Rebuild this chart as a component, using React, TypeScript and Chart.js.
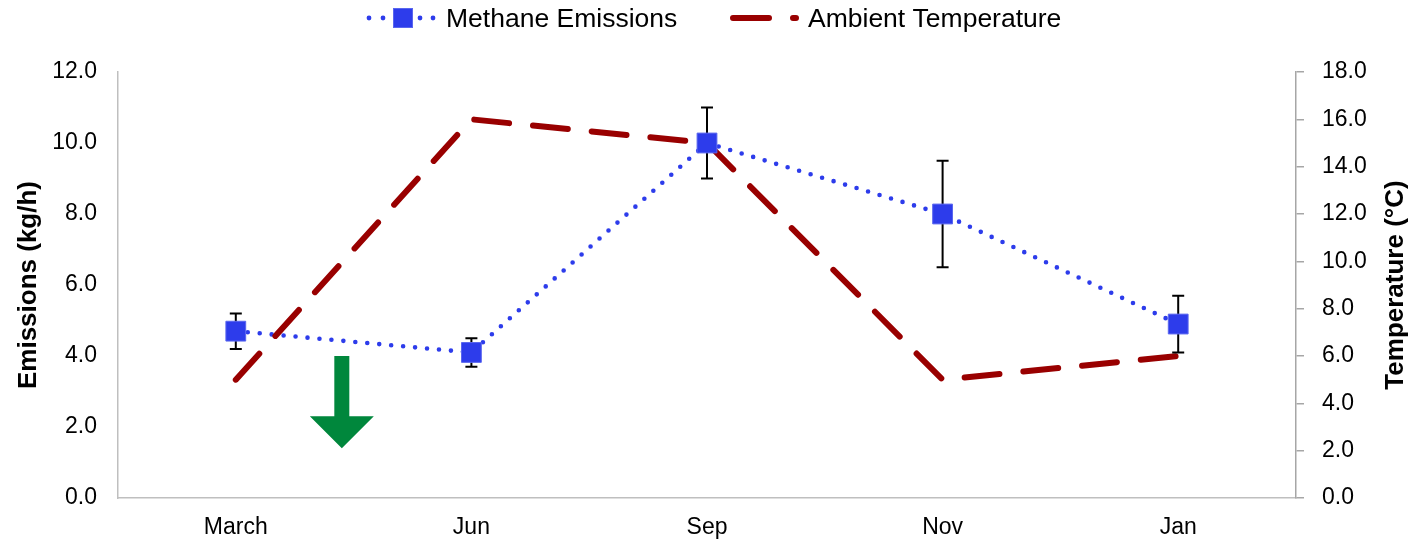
import React, { useEffect, useRef } from 'react';
import { Chart, registerables } from 'chart.js';

Chart.register(...registerables);

// ---- data ----
const categories = ['March', 'Jun', 'Sep', 'Nov', 'Jan'];
const methane = [4.7, 4.1, 10.0, 8.0, 4.9];
const methaneLow = [4.2, 3.7, 9.0, 6.5, 4.1];
const methaneHigh = [5.2, 4.5, 11.0, 9.5, 5.7];
const temperature = [5.0, 16.0, 15.0, 5.0, 6.0];
const leftAxisRange = [0, 12];
const rightAxisRange = [0, 18];
const tickStep = 2;
// arrow annotation (category index, from / to on the emissions axis)
const arrowIndex = 0.45;
const arrowFrom = 4.0;
const arrowTo = 1.4;

const seriesNames = ['Methane Emissions', 'Ambient Temperature'];
const axisTitles = ['Emissions (kg/h)', 'Temperature (°C)'];

const BLUE = '#2d3ceb';
const BLUE_EDGE = '#5966ef';
const RED = '#990000';
const GREEN = '#00873c';
const FONT = '"Liberation Sans", Arial, sans-serif';

const errorBarPlugin = {
  id: 'errorBars',
  beforeDatasetDraw(chart: any, args: any) {
    if (args.index !== 0) return;
    const { ctx } = chart;
    const xs = chart.scales.x;
    const ys = chart.scales.y;
    ctx.save();
    ctx.strokeStyle = '#000';
    ctx.lineWidth = 2;
    methane.forEach((_, i) => {
      const x = xs.getPixelForValue(i);
      const yl = ys.getPixelForValue(methaneLow[i]);
      const yh = ys.getPixelForValue(methaneHigh[i]);
      ctx.beginPath();
      ctx.moveTo(x, yl);
      ctx.lineTo(x, yh);
      ctx.moveTo(x - 6, yl);
      ctx.lineTo(x + 6, yl);
      ctx.moveTo(x - 6, yh);
      ctx.lineTo(x + 6, yh);
      ctx.stroke();
    });
    ctx.restore();
  },
};

const arrowPlugin = {
  id: 'arrow',
  afterDatasetsDraw(chart: any) {
    const { ctx } = chart;
    const x = chart.scales.x.getPixelForValue(arrowIndex);
    const top = chart.scales.y.getPixelForValue(arrowFrom);
    const tip = chart.scales.y.getPixelForValue(arrowTo);
    const headH = 32;
    const headTop = tip - headH;
    ctx.save();
    ctx.fillStyle = GREEN;
    ctx.beginPath();
    ctx.moveTo(x - 7.5, top);
    ctx.lineTo(x + 7.5, top);
    ctx.lineTo(x + 7.5, headTop);
    ctx.lineTo(x + 32, headTop);
    ctx.lineTo(x, tip);
    ctx.lineTo(x - 32, headTop);
    ctx.lineTo(x - 7.5, headTop);
    ctx.closePath();
    ctx.fill();
    ctx.restore();
  },
};

const legendAndTitlePlugin = {
  id: 'customLegend',
  afterDraw(chart: any) {
    const { ctx, chartArea } = chart;
    ctx.save();
    // Methane legend sample
    const ly = 18;
    ctx.fillStyle = BLUE;
    [369, 383, 420, 433].forEach((dx) => {
      ctx.beginPath();
      ctx.arc(dx, ly, 2.4, 0, Math.PI * 2);
      ctx.fill();
    });
    ctx.fillRect(393.5, ly - 9.5, 19, 19);
    ctx.strokeStyle = BLUE_EDGE;
    ctx.lineWidth = 1;
    ctx.strokeRect(393.5, ly - 9.5, 19, 19);
    // Temperature legend sample
    ctx.strokeStyle = RED;
    ctx.lineWidth = 6;
    ctx.lineCap = 'round';
    ctx.beginPath();
    ctx.moveTo(733, ly);
    ctx.lineTo(769, ly);
    ctx.moveTo(793, ly);
    ctx.lineTo(796, ly);
    ctx.stroke();
    // legend text
    ctx.fillStyle = '#000';
    ctx.font = `26.5px ${FONT}`;
    ctx.textAlign = 'left';
    ctx.textBaseline = 'alphabetic';
    ctx.fillText(seriesNames[0], 446, 27);
    ctx.fillText(seriesNames[1], 808, 27);
    // right axis title, reading bottom to top
    ctx.font = `bold 26px ${FONT}`;
    ctx.textAlign = 'center';
    ctx.textBaseline = 'middle';
    ctx.translate(1396, (chartArea.top + chartArea.bottom) / 2);
    ctx.rotate(-Math.PI / 2);
    ctx.fillText(axisTitles[1], 0, 0);
    ctx.restore();
  },
};

export default function App() {
  const canvasRef = useRef<HTMLCanvasElement | null>(null);

  useEffect(() => {
    if (!canvasRef.current) return;
    const tickFont = { family: FONT, size: 23 };
    const chart = new Chart(canvasRef.current, {
      type: 'line',
      data: {
        labels: categories,
        datasets: [
          {
            label: seriesNames[0],
            data: methane,
            yAxisID: 'y',
            showLine: false,
            pointStyle: 'rect',
            pointRadius: 14,
            pointHoverRadius: 14,
            pointBackgroundColor: BLUE,
            pointBorderColor: BLUE_EDGE,
            pointBorderWidth: 1,
            order: 0,
          },
          {
            label: seriesNames[1],
            data: temperature,
            yAxisID: 'y1',
            borderColor: RED,
            borderWidth: 6,
            borderDash: [35, 24],
            borderCapStyle: 'round',
            pointRadius: 0,
            tension: 0,
            fill: false,
            order: 1,
          },
          {
            label: seriesNames[0] + ' line',
            data: methane,
            yAxisID: 'y',
            borderColor: BLUE,
            borderWidth: 4.6,
            borderDash: [0, 12],
            borderCapStyle: 'round',
            pointRadius: 0,
            tension: 0,
            fill: false,
            order: 2,
          },
        ],
      },
      options: {
        animation: false,
        responsive: true,
        maintainAspectRatio: false,
        layout: { padding: { top: 72, left: 0, right: 0, bottom: 0 } },
        plugins: {
          legend: { display: false },
          tooltip: { enabled: false },
        },
        scales: {
          x: {
            type: 'category',
            offset: true,
            grid: { display: false, drawTicks: false },
            border: { display: true, color: '#bfbfbf', width: 1.5 },
            ticks: { font: { family: FONT, size: 23 }, color: '#000', padding: 16, maxRotation: 0 },
            afterFit: (s: any) => { s.height = 44; },
          },
          y: {
            position: 'left',
            min: leftAxisRange[0],
            max: leftAxisRange[1],
            grid: { display: false, drawTicks: false },
            border: { display: true, color: '#bfbfbf', width: 1.5 },
            ticks: {
              stepSize: tickStep,
              font: tickFont,
              color: '#000',
              padding: 21,
              callback: (v: any) => Number(v).toFixed(1),
            },
            title: {
              display: true,
              text: axisTitles[0],
              font: { family: FONT, size: 26, weight: 'bold' },
              color: '#000',
              padding: { top: 13, bottom: 0 },
            },
            afterFit: (s: any) => { s.width = 118; },
          },
          y1: {
            position: 'right',
            min: rightAxisRange[0],
            max: rightAxisRange[1],
            grid: { display: true, drawOnChartArea: false, drawTicks: true, tickLength: 8, color: '#a6a6a6', lineWidth: 1.5 },
            border: { display: true, color: '#a6a6a6', width: 1.5 },
            ticks: {
              stepSize: tickStep,
              font: tickFont,
              color: '#000',
              padding: 18,
              callback: (v: any) => Number(v).toFixed(1),
            },
            afterFit: (s: any) => { s.width = 118; },
          },
        },
      } as any,
      plugins: [errorBarPlugin, arrowPlugin, legendAndTitlePlugin],
    });
    return () => chart.destroy();
  }, []);

  return (
    <div style={{ position: 'absolute', left: 0, top: 0, width: 1414, height: 542, background: '#fff' }}>
      <canvas ref={canvasRef} />
    </div>
  );
}
